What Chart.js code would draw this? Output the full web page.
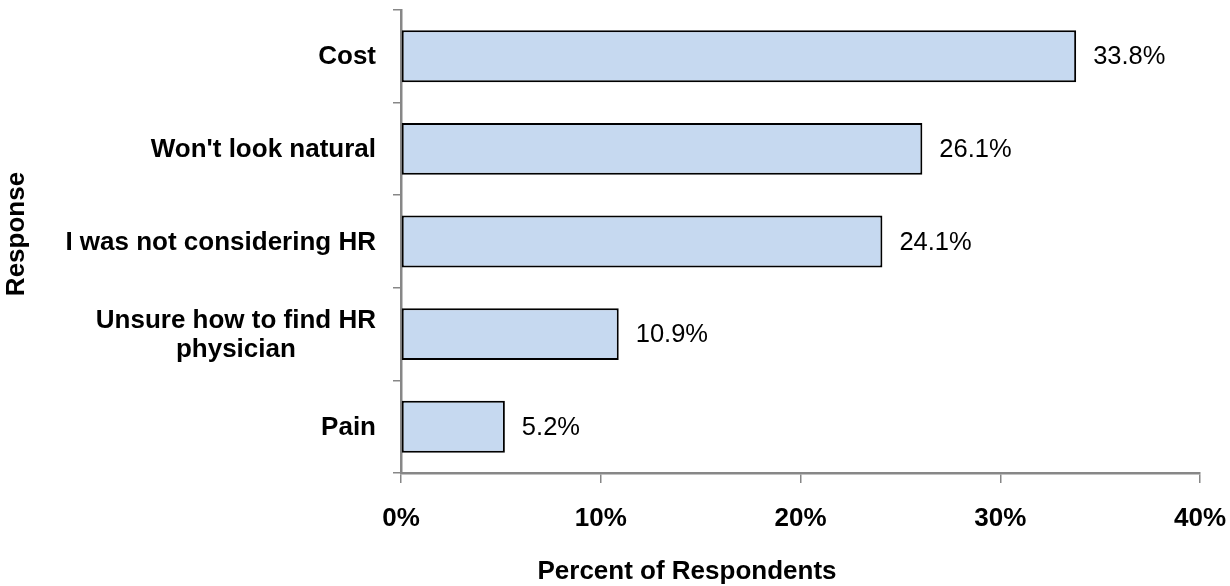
<!DOCTYPE html>
<html>
<head>
<meta charset="utf-8">
<script src="https://cdn.jsdelivr.net/npm/chart.js@4"></script>
<style>
  html, body { margin: 0; padding: 0; background: #fff; }
  #wrap { width: 1230px; height: 586px; }
</style>
</head>
<body>
<div id="wrap"><canvas id="myChart" width="1230" height="586"></canvas></div>
<script>
  const categories = ['Cost', "Won't look natural", 'I was not considering HR', ['Unsure how to find HR', 'physician'], 'Pain'];
  const values = [33.8, 26.1, 24.1, 10.9, 5.2];
  const xTicks = [0, 10, 20, 30, 40];
  const xTitle = 'Percent of Respondents';
  const yTitle = 'Response';

  const FONT = "'Liberation Sans', Arial, sans-serif";
  const axisGray = '#878787';

  // draws value labels, category labels and axis titles
  const textPlugin = {
    id: 'textPlugin',
    afterDraw(chart) {
      const ctx = chart.ctx;
      const meta = chart.getDatasetMeta(0);
      const yScale = chart.scales.y;
      ctx.save();
      ctx.fillStyle = '#000';

      // value labels
      ctx.font = '25.5px ' + FONT;
      ctx.textAlign = 'left';
      ctx.textBaseline = 'middle';
      meta.data.forEach(function(bar, i) {
        ctx.fillText(values[i].toFixed(1) + '%', bar.x + 17, bar.y + 1);
      });

      // category labels, right aligned block, lines centred in block
      ctx.font = 'bold 26px ' + FONT;
      categories.forEach(function(cat, i) {
        const lines = Array.isArray(cat) ? cat : [cat];
        const w = Math.max.apply(null, lines.map(function(l) { return ctx.measureText(l).width; }));
        const cx = 376 - w / 2;
        const cy = yScale.getPixelForTick(i);
        const lh = 29;
        ctx.textAlign = 'center';
        lines.forEach(function(l, k) {
          ctx.fillText(l, cx, cy + (k - (lines.length - 1) / 2) * lh + 1);
        });
      });

      // axis titles
      ctx.textAlign = 'center';
      ctx.fillText(xTitle, 687, 572);
      ctx.translate(17, 234);
      ctx.rotate(-Math.PI / 2);
      ctx.fillText(yTitle, 0, 0);
      ctx.restore();
    }
  };

  const data = {
    labels: categories,
    datasets: [{
      data: values,
      backgroundColor: '#C6D9F0',
      borderColor: '#000',
      borderWidth: 2,
      borderSkipped: false,
      barPercentage: 0.56,
      categoryPercentage: 1
    }]
  };

  const config = {
    type: 'bar',
    data: data,
    options: {
      indexAxis: 'y',
      responsive: false,
      animation: false,
      layout: {
        padding: { top: 10, right: 30, left: 0, bottom: 0 }
      },
      plugins: {
        legend: { display: false },
        tooltip: { enabled: false }
      },
      scales: {
        x: {
          min: 0,
          max: 40,
          afterBuildTicks: function(scale) {
            scale.ticks = xTicks.map(function(v) { return { value: v }; });
          },
          afterFit: function(scale) {
            scale.height = 113;
            scale.paddingLeft = 0;
            scale.paddingRight = 0;
          },
          border: { color: axisGray, width: 2.5 },
          grid: {
            drawOnChartArea: false,
            drawTicks: true,
            tickLength: 10,
            color: axisGray,
            lineWidth: 1.5
          },
          ticks: {
            padding: 20,
            color: '#000',
            font: { family: FONT, size: 26, weight: 'bold' },
            callback: function(v) { return v + '%'; }
          }
        },
        y: {
          afterFit: function(scale) {
            scale.width = 401;
            scale.paddingTop = 0;
            scale.paddingBottom = 0;
          },
          border: { color: axisGray, width: 2.5 },
          grid: {
            offset: true,
            drawOnChartArea: false,
            drawTicks: true,
            tickLength: 8,
            color: axisGray,
            lineWidth: 1.5
          },
          ticks: {
            color: 'rgba(0,0,0,0)',
            font: { family: FONT, size: 8 }
          }
        }
      }
    },
    plugins: [textPlugin]
  };

  const myChart = new Chart(document.getElementById('myChart'), config);
</script>
</body>
</html>
